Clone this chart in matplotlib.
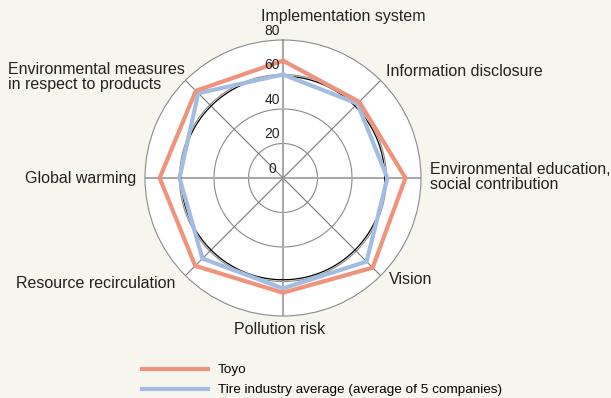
import numpy as np
import matplotlib
matplotlib.use("Agg")
import matplotlib.pyplot as plt

plt.rcParams['font.family'] = ['Liberation Sans', 'DejaVu Sans']

# categories clockwise from the top
categories = ["Implementation system", "Information disclosure",
              "Environmental education,\nsocial contribution", "Vision",
              "Pollution risk", "Resource recirculation", "Global warming",
              "Environmental measures\nin respect to products"]
toyo = [68, 62.5, 71, 73.5, 66.5, 72, 71.5, 71.5]
industry_avg = [60, 61, 60.5, 68.5, 64, 66, 60, 69.5]
ring_values = [0, 20, 40, 60, 80]
series_names = ["Toyo", "Tire industry average (average of 5 companies)"]

W, H = 611, 398
bg = '#f6f6ee'
col_toyo = '#f0937c'
col_avg = '#a3bde2'

fig = plt.figure(figsize=(W / 100, H / 100), dpi=100, facecolor=bg)

# polar axes, center at (283, 178) px, radius 138 px
cx, cy, R = 283, 178, 138
ax = fig.add_axes([(cx - R) / W, (H - cy - R) / H, 2 * R / W, 2 * R / H],
                  projection='polar')
ax.set_theta_zero_location('N')
ax.set_theta_direction(-1)
ax.set_ylim(0, 80)
ax.set_facecolor('white')
ax.grid(False)
ax.set_xticks([])
ax.set_yticks([])
ax.spines['polar'].set_color('#8a8a8a')
ax.spines['polar'].set_linewidth(0.8)

n = len(categories)
angles = np.arange(n) * 2 * np.pi / n
tt = np.linspace(0, 2 * np.pi, 361)

# rings
for v in ring_values[1:-1]:
    ax.plot(tt, np.full_like(tt, v), color='#8a8a8a', lw=0.8, zorder=1)
ax.plot(tt, np.full_like(tt, 59), color='black', lw=0.9, zorder=2)

# spokes
for i, a in enumerate(angles):
    if i % 2 == 0:
        ax.plot([a, a], [0, 80], color='#aaaaaa', lw=1.5, zorder=1)
    else:
        ax.plot([a, a], [0, 80], color='#7a7a7a', lw=0.8, zorder=1)

# ring labels
for v in ring_values:
    ax.annotate(str(v), xy=(0, v), xytext=(-8, 6.5), textcoords='offset points',
                ha='center', va='center', fontsize=10, color='#222222',
                annotation_clip=False, zorder=5)

closed = np.append(angles, angles[0])
h1, = ax.plot(closed, toyo + toyo[:1], color=col_toyo, lw=3, zorder=4,
              solid_joinstyle='miter')
h2, = ax.plot(closed, industry_avg + industry_avg[:1], color=col_avg, lw=3,
              zorder=3, solid_joinstyle='miter')


def px(x, y):
    return x / W, 1 - y / H


label_pos = [
    ((261, 17), 'left'),
    ((386, 71), 'left'),
    ((430, 177), 'left'),
    ((389, 279), 'left'),
    ((280, 330), 'center'),
    ((175, 284), 'right'),
    ((136, 179), 'right'),
    ((8, 77), 'left'),
]
for lab, ((x, y), ha) in zip(categories, label_pos):
    fx, fy = px(x, y)
    fig.text(fx, fy, lab, ha=ha, va='center', fontsize=11.5, color='#222222',
             linespacing=1.0)

fig.legend([h1, h2], series_names, loc='upper left',
           bbox_to_anchor=px(142, 364), frameon=False, fontsize=9.7,
           handlelength=4.9, handletextpad=0.75, labelspacing=0.55,
           borderpad=0, borderaxespad=0)

fig.savefig('out.png', dpi=100, facecolor=bg)
